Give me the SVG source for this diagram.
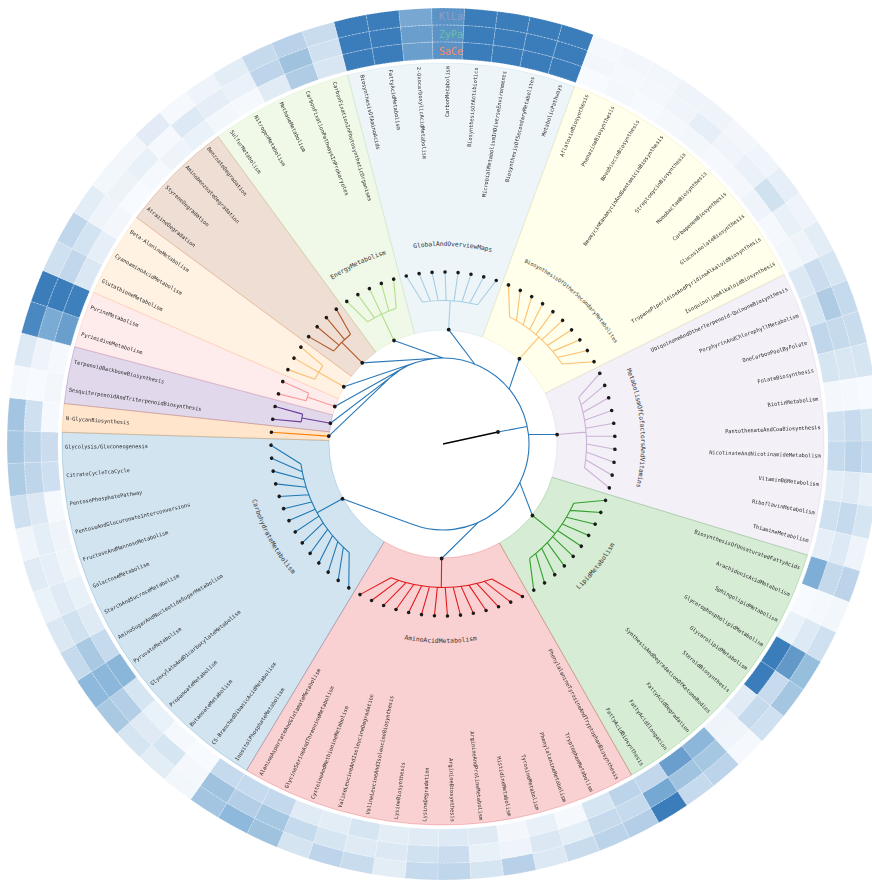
<svg xmlns="http://www.w3.org/2000/svg" xmlns:xlink="http://www.w3.org/1999/xlink" width="872" height="880" viewBox="0 0 872 880">
<style>
.wd{fill-opacity:.2;stroke-opacity:.3;stroke-width:.8}
.hm use{stroke:#fff;stroke-width:.5;stroke-opacity:.6;stroke-dasharray:2 1.5}
.br{fill:none;stroke:currentColor;stroke-width:1.1}
.dt{fill:#1a1a1a}
.lf{font-family:'DejaVu Sans Mono',monospace;font-size:5.3px;fill:#2b2b2b;dominant-baseline:central}
.r{text-anchor:end}
.cl{font-family:'DejaVu Sans Mono',monospace;font-size:6.3px;fill:#333;dominant-baseline:central;text-anchor:middle}
.hl{font-family:'DejaVu Sans Mono',monospace;font-size:10px;dominant-baseline:central}
.con{fill:none;stroke:#2a78b8;stroke-width:1.1}
.gs{opacity:.995}
</style>
<defs>
<path id="cI" d="M428.432 59.276A385 385 0 0 1 457.568 59.276L458.212 42.288A402 402 0 0 0 427.788 42.288Z"/>
<path id="cM" d="M427.788 42.288A402 402 0 0 1 458.212 42.288L458.855 25.3A419 419 0 0 0 427.145 25.3Z"/>
<path id="cO" d="M427.145 25.3A419 419 0 0 1 458.855 25.3L459.498 8.312A436 436 0 0 0 426.502 8.312Z"/>
<path id="arcCW" d="M268.93 343.5A201 201 0 0 1 617.07 343.5"/>
<path id="arcCCW" d="M273.26 542A196 196 0 0 0 612.74 542"/>
<g id="t14"><path class="br" d="M361.74 292.41L392.56 309.66M373.44 286.69L400.06 307.08M385.53 281.88L407.68 304.92M397.96 278L415.42 303.18M410.64 275.07L423.24 301.87M423.51 273.11L431.12 300.99M436.49 272.12L439.04 300.56M449.51 272.12L446.96 300.56M462.49 273.11L454.88 300.99M475.36 275.07L462.76 301.87M488.04 278L470.58 303.18M500.47 281.88L478.32 304.92M512.56 286.69L485.94 307.08M524.26 292.41L493.45 309.66M392.56 309.66A143.5 143.5 0 0 1 493.45 309.66M443 300.5V329.5"/><g class="dt"><circle cx="361.74" cy="292.41" r="1.8"/><circle cx="373.44" cy="286.69" r="1.8"/><circle cx="385.53" cy="281.88" r="1.8"/><circle cx="397.96" cy="278" r="1.8"/><circle cx="410.64" cy="275.07" r="1.8"/><circle cx="423.51" cy="273.11" r="1.8"/><circle cx="436.49" cy="272.12" r="1.8"/><circle cx="449.51" cy="272.12" r="1.8"/><circle cx="462.49" cy="273.11" r="1.8"/><circle cx="475.36" cy="275.07" r="1.8"/><circle cx="488.04" cy="278" r="1.8"/><circle cx="500.47" cy="281.88" r="1.8"/><circle cx="512.56" cy="286.69" r="1.8"/><circle cx="524.26" cy="292.41" r="1.8"/><circle cx="443" cy="329.5" r="1.9"/></g></g>
<g id="t10"><path class="br" d="M385.53 281.88L407.68 304.92M397.96 278L415.42 303.18M410.64 275.07L423.24 301.87M423.51 273.11L431.12 300.99M436.49 272.12L439.04 300.56M449.51 272.12L446.96 300.56M462.49 273.11L454.88 300.99M475.36 275.07L462.76 301.87M488.04 278L470.58 303.18M500.47 281.88L478.32 304.92M407.68 304.92A143.5 143.5 0 0 1 478.32 304.92M443 300.5V329.5"/><g class="dt"><circle cx="385.53" cy="281.88" r="1.8"/><circle cx="397.96" cy="278" r="1.8"/><circle cx="410.64" cy="275.07" r="1.8"/><circle cx="423.51" cy="273.11" r="1.8"/><circle cx="436.49" cy="272.12" r="1.8"/><circle cx="449.51" cy="272.12" r="1.8"/><circle cx="462.49" cy="273.11" r="1.8"/><circle cx="475.36" cy="275.07" r="1.8"/><circle cx="488.04" cy="278" r="1.8"/><circle cx="500.47" cy="281.88" r="1.8"/><circle cx="443" cy="329.5" r="1.9"/></g></g>
<g id="t8"><path class="br" d="M397.96 278L415.42 303.18M410.64 275.07L423.24 301.87M423.51 273.11L431.12 300.99M436.49 272.12L439.04 300.56M449.51 272.12L446.96 300.56M462.49 273.11L454.88 300.99M475.36 275.07L462.76 301.87M488.04 278L470.58 303.18M415.42 303.18A143.5 143.5 0 0 1 470.58 303.18M443 300.5V329.5"/><g class="dt"><circle cx="397.96" cy="278" r="1.8"/><circle cx="410.64" cy="275.07" r="1.8"/><circle cx="423.51" cy="273.11" r="1.8"/><circle cx="436.49" cy="272.12" r="1.8"/><circle cx="449.51" cy="272.12" r="1.8"/><circle cx="462.49" cy="273.11" r="1.8"/><circle cx="475.36" cy="275.07" r="1.8"/><circle cx="488.04" cy="278" r="1.8"/><circle cx="443" cy="329.5" r="1.9"/></g></g>
<g id="t5"><path class="br" d="M417.06 273.97L427.17 301.38M429.99 272.49L435.07 300.72M443 272V300.5M456.01 272.49L450.93 300.72M468.94 273.97L458.83 301.38M427.17 301.38A143.5 143.5 0 0 1 458.83 301.38M443 300.5V329.5"/><g class="dt"><circle cx="417.06" cy="273.97" r="1.8"/><circle cx="429.99" cy="272.49" r="1.8"/><circle cx="443" cy="272" r="1.8"/><circle cx="456.01" cy="272.49" r="1.8"/><circle cx="468.94" cy="273.97" r="1.8"/><circle cx="443" cy="329.5" r="1.9"/></g></g>
<g id="t4"><path class="br" d="M423.51 273.11L431.12 300.99M436.49 272.12L439.04 300.56M449.51 272.12L446.96 300.56M462.49 273.11L454.88 300.99M431.12 300.99A143.5 143.5 0 0 1 454.88 300.99M443 300.5V329.5"/><g class="dt"><circle cx="423.51" cy="273.11" r="1.8"/><circle cx="436.49" cy="272.12" r="1.8"/><circle cx="449.51" cy="272.12" r="1.8"/><circle cx="462.49" cy="273.11" r="1.8"/><circle cx="443" cy="329.5" r="1.9"/></g></g>
<g id="t3"><path class="br" d="M429.99 272.49L435.07 300.72M443 272V300.5M456.01 272.49L450.93 300.72M435.07 300.72A143.5 143.5 0 0 1 450.93 300.72M443 300.5V329.5"/><g class="dt"><circle cx="429.99" cy="272.49" r="1.8"/><circle cx="443" cy="272" r="1.8"/><circle cx="456.01" cy="272.49" r="1.8"/><circle cx="443" cy="329.5" r="1.9"/></g></g>
<g id="t2"><path class="br" d="M436.49 272.12L439.04 300.56M449.51 272.12L446.96 300.56M439.04 300.56A143.5 143.5 0 0 1 446.96 300.56M443 300.5V329.5"/><g class="dt"><circle cx="436.49" cy="272.12" r="1.8"/><circle cx="449.51" cy="272.12" r="1.8"/><circle cx="443" cy="329.5" r="1.9"/></g></g>
<g id="t1"><path class="br" d="M443 272V329.5"/><g class="dt"><circle cx="443" cy="272" r="1.8"/><circle cx="443" cy="329.5" r="1.9"/></g></g>
</defs>
<rect width="872" height="880" fill="#fff"/>

<g id="wedges">
<path class="wd" fill="#a6cee3" stroke="#a6cee3" d="M414.457 333.631L347.605 75.136A381 381 0 0 1 574.553 86.439L482.362 337.01A114 114 0 0 0 414.457 333.631Z"/>
<path class="wd" fill="#ffff99" stroke="#e6d87a" d="M482.362 337.01L574.553 86.439A381 381 0 0 1 784.185 274.429L545.087 393.262A114 114 0 0 0 482.362 337.01Z"/>
<path class="wd" fill="#cab2d6" stroke="#cab2d6" d="M545.087 393.262L784.185 274.429A381 381 0 0 1 807.458 555.049L552.05 477.227A114 114 0 0 0 545.087 393.262Z"/>
<path class="wd" fill="#33a02c" stroke="#33a02c" d="M552.05 477.227L807.458 555.049A381 381 0 0 1 631.661 775.017L499.45 543.045A114 114 0 0 0 552.05 477.227Z"/>
<path class="wd" fill="#e31a1c" stroke="#e31a1c" d="M499.45 543.045L631.661 775.017A381 381 0 0 1 246.53 770.436L384.214 541.674A114 114 0 0 0 499.45 543.045Z"/>
<path class="wd" fill="#1f78b4" stroke="#1f78b4" d="M384.214 541.674L246.53 770.436A381 381 0 0 1 62.181 432.264L329.054 440.488A114 114 0 0 0 384.214 541.674Z"/>
<path class="wd" fill="#ff7f00" stroke="#ff7f00" d="M329.054 440.488L62.181 432.264A381 381 0 0 1 64.159 403.499L329.646 431.882A114 114 0 0 0 329.054 440.488Z"/>
<path class="wd" fill="#6a3d9a" stroke="#6a3d9a" d="M329.646 431.882L64.159 403.499A381 381 0 0 1 74.602 346.822L332.771 414.923A114 114 0 0 0 329.646 431.882Z"/>
<path class="wd" fill="#fb9a99" stroke="#fb9a99" d="M332.771 414.923L74.602 346.822A381 381 0 0 1 93.477 292.365L338.418 398.629A114 114 0 0 0 332.771 414.923Z"/>
<path class="wd" fill="#fdbf6f" stroke="#fdbf6f" d="M338.418 398.629L93.477 292.365A381 381 0 0 1 136.588 217.565L351.318 376.248A114 114 0 0 0 338.418 398.629Z"/>
<path class="wd" fill="#b15928" stroke="#b15928" d="M351.318 376.248L136.588 217.565A381 381 0 0 1 218.049 136.495L375.692 351.99A114 114 0 0 0 351.318 376.248Z"/>
<path class="wd" fill="#b2df8a" stroke="#b2df8a" d="M375.692 351.99L218.049 136.495A381 381 0 0 1 347.605 75.136L414.457 333.631A114 114 0 0 0 375.692 351.99Z"/>
</g>

<g id="heatmap" class="hm">
<g transform="rotate(-12.331 443 444)"><use href="#cO" fill="#3a7dba"/><use href="#cM" fill="#3a7dba"/><use href="#cI" fill="#3a7dba"/></g>
<g transform="rotate(-7.994 443 444)"><use href="#cO" fill="#3a7dba"/><use href="#cM" fill="#3a7dba"/><use href="#cI" fill="#3a7dba"/></g>
<g transform="rotate(-3.657 443 444)"><use href="#cO" fill="#78a8d2"/><use href="#cM" fill="#6a9ecd"/><use href="#cI" fill="#6a9ecd"/></g>
<g transform="rotate(0.681 443 444)"><use href="#cO" fill="#5b93c6"/><use href="#cM" fill="#5b93c6"/><use href="#cI" fill="#5b93c6"/></g>
<g transform="rotate(5.018 443 444)"><use href="#cO" fill="#3a7dba"/><use href="#cM" fill="#3a7dba"/><use href="#cI" fill="#3a7dba"/></g>
<g transform="rotate(9.355 443 444)"><use href="#cO" fill="#3a7dba"/><use href="#cM" fill="#3a7dba"/><use href="#cI" fill="#3a7dba"/></g>
<g transform="rotate(13.693 443 444)"><use href="#cO" fill="#3a7dba"/><use href="#cM" fill="#3a7dba"/><use href="#cI" fill="#3a7dba"/></g>
<g transform="rotate(18.03 443 444)"><use href="#cO" fill="#3a7dba"/><use href="#cM" fill="#3a7dba"/><use href="#cI" fill="#3a7dba"/></g>
<g transform="rotate(22.367 443 444)"><use href="#cO" fill="#f5f9fd"/><use href="#cM" fill="#f3f7fc"/><use href="#cI" fill="#f7fbff"/></g>
<g transform="rotate(26.705 443 444)"><use href="#cO" fill="#f3f7fc"/><use href="#cM" fill="#f5f9fd"/><use href="#cI" fill="#f4f8fc"/></g>
<g transform="rotate(31.042 443 444)"><use href="#cO" fill="#f2f7fc"/><use href="#cM" fill="#f4f8fc"/><use href="#cI" fill="#f6f9fd"/></g>
<g transform="rotate(35.38 443 444)"><use href="#cO" fill="#eef4fa"/><use href="#cM" fill="#f0f5fb"/><use href="#cI" fill="#f4f8fc"/></g>
<g transform="rotate(39.717 443 444)"><use href="#cO" fill="#eef4fa"/><use href="#cM" fill="#e6eef7"/><use href="#cI" fill="#f2f7fc"/></g>
<g transform="rotate(44.054 443 444)"><use href="#cO" fill="#f3f7fc"/><use href="#cM" fill="#f0f5fb"/><use href="#cI" fill="#f5f9fd"/></g>
<g transform="rotate(48.392 443 444)"><use href="#cO" fill="#f0f5fb"/><use href="#cM" fill="#eaf1f8"/><use href="#cI" fill="#f4f8fc"/></g>
<g transform="rotate(52.729 443 444)"><use href="#cO" fill="#e6eef7"/><use href="#cM" fill="#d0e1f0"/><use href="#cI" fill="#eef4fa"/></g>
<g transform="rotate(57.066 443 444)"><use href="#cO" fill="#eef4fa"/><use href="#cM" fill="#e9f1f8"/><use href="#cI" fill="#f5f9fd"/></g>
<g transform="rotate(61.404 443 444)"><use href="#cO" fill="#e3edf6"/><use href="#cM" fill="#eef4fa"/><use href="#cI" fill="#f2f7fc"/></g>
<g transform="rotate(65.741 443 444)"><use href="#cO" fill="#d6e5f2"/><use href="#cM" fill="#cadcee"/><use href="#cI" fill="#dce9f4"/></g>
<g transform="rotate(70.078 443 444)"><use href="#cO" fill="#c6daed"/><use href="#cM" fill="#b0cce4"/><use href="#cI" fill="#d6e5f2"/></g>
<g transform="rotate(74.416 443 444)"><use href="#cO" fill="#c9dcee"/><use href="#cM" fill="#c6daed"/><use href="#cI" fill="#c0d6eb"/></g>
<g transform="rotate(78.753 443 444)"><use href="#cO" fill="#d6e5f2"/><use href="#cM" fill="#d9e7f3"/><use href="#cI" fill="#d6e5f2"/></g>
<g transform="rotate(83.09 443 444)"><use href="#cO" fill="#f7fbff"/><use href="#cM" fill="#f5f9fd"/><use href="#cI" fill="#f4f8fc"/></g>
<g transform="rotate(87.428 443 444)"><use href="#cO" fill="#d3e4f1"/><use href="#cM" fill="#c8dbee"/><use href="#cI" fill="#cfe0f0"/></g>
<g transform="rotate(91.765 443 444)"><use href="#cO" fill="#c6daed"/><use href="#cM" fill="#bcd4ea"/><use href="#cI" fill="#c6daed"/></g>
<g transform="rotate(96.102 443 444)"><use href="#cO" fill="#e8f0f8"/><use href="#cM" fill="#dfeaf5"/><use href="#cI" fill="#e3edf6"/></g>
<g transform="rotate(100.44 443 444)"><use href="#cO" fill="#d6e5f2"/><use href="#cM" fill="#c6daed"/><use href="#cI" fill="#cfe0f0"/></g>
<g transform="rotate(104.777 443 444)"><use href="#cO" fill="#eef4fa"/><use href="#cM" fill="#dde9f4"/><use href="#cI" fill="#e6eff8"/></g>
<g transform="rotate(109.114 443 444)"><use href="#cO" fill="#bcd3ea"/><use href="#cM" fill="#c5d9ec"/><use href="#cI" fill="#7eadd6"/></g>
<g transform="rotate(113.452 443 444)"><use href="#cO" fill="#f2f7fc"/><use href="#cM" fill="#f5f9fd"/><use href="#cI" fill="#f7fbff"/></g>
<g transform="rotate(117.789 443 444)"><use href="#cO" fill="#cfe0f0"/><use href="#cM" fill="#dde9f4"/><use href="#cI" fill="#eaf2f9"/></g>
<g transform="rotate(122.127 443 444)"><use href="#cO" fill="#96bfdd"/><use href="#cM" fill="#6399c9"/><use href="#cI" fill="#3a7dba"/></g>
<g transform="rotate(126.464 443 444)"><use href="#cO" fill="#a4c6e1"/><use href="#cM" fill="#c8dbee"/><use href="#cI" fill="#3a7dba"/></g>
<g transform="rotate(130.801 443 444)"><use href="#cO" fill="#cfe0f0"/><use href="#cM" fill="#c6daed"/><use href="#cI" fill="#e0ebf5"/></g>
<g transform="rotate(135.139 443 444)"><use href="#cO" fill="#f5f9fd"/><use href="#cM" fill="#f0f5fb"/><use href="#cI" fill="#eef4fa"/></g>
<g transform="rotate(139.476 443 444)"><use href="#cO" fill="#bcd4ea"/><use href="#cM" fill="#a5c7e2"/><use href="#cI" fill="#8cb7db"/></g>
<g transform="rotate(143.813 443 444)"><use href="#cO" fill="#c6daed"/><use href="#cM" fill="#a0c4e0"/><use href="#cI" fill="#6a9ecd"/></g>
<g transform="rotate(148.151 443 444)"><use href="#cO" fill="#3a7dba"/><use href="#cM" fill="#75a8d3"/><use href="#cI" fill="#c2d7eb"/></g>
<g transform="rotate(152.488 443 444)"><use href="#cO" fill="#b3cee6"/><use href="#cM" fill="#c6daed"/><use href="#cI" fill="#bcd4ea"/></g>
<g transform="rotate(156.825 443 444)"><use href="#cO" fill="#bcd4ea"/><use href="#cM" fill="#c6daed"/><use href="#cI" fill="#d6e5f2"/></g>
<g transform="rotate(161.163 443 444)"><use href="#cO" fill="#c9dcee"/><use href="#cM" fill="#e4eef7"/><use href="#cI" fill="#f5f9fd"/></g>
<g transform="rotate(165.5 443 444)"><use href="#cO" fill="#dce9f4"/><use href="#cM" fill="#dbe8f4"/><use href="#cI" fill="#e8f0f8"/></g>
<g transform="rotate(169.837 443 444)"><use href="#cO" fill="#b8d1e8"/><use href="#cM" fill="#eef4fa"/><use href="#cI" fill="#f3f7fc"/></g>
<g transform="rotate(174.175 443 444)"><use href="#cO" fill="#d6e5f2"/><use href="#cM" fill="#e8f0f8"/><use href="#cI" fill="#dfeaf5"/></g>
<g transform="rotate(178.512 443 444)"><use href="#cO" fill="#c0d6eb"/><use href="#cM" fill="#cadcee"/><use href="#cI" fill="#dde9f4"/></g>
<g transform="rotate(182.849 443 444)"><use href="#cO" fill="#c6daed"/><use href="#cM" fill="#d0e1f0"/><use href="#cI" fill="#e0ebf5"/></g>
<g transform="rotate(187.187 443 444)"><use href="#cO" fill="#e3edf6"/><use href="#cM" fill="#dce8f4"/><use href="#cI" fill="#e3edf6"/></g>
<g transform="rotate(191.524 443 444)"><use href="#cO" fill="#c9dcee"/><use href="#cM" fill="#dfeaf5"/><use href="#cI" fill="#d6e5f2"/></g>
<g transform="rotate(195.861 443 444)"><use href="#cO" fill="#bdd4ea"/><use href="#cM" fill="#d6e5f2"/><use href="#cI" fill="#e3edf6"/></g>
<g transform="rotate(200.199 443 444)"><use href="#cO" fill="#d4e4f1"/><use href="#cM" fill="#c6daed"/><use href="#cI" fill="#e0ebf5"/></g>
<g transform="rotate(204.536 443 444)"><use href="#cO" fill="#9fc2df"/><use href="#cM" fill="#a6c7e2"/><use href="#cI" fill="#c3d8ec"/></g>
<g transform="rotate(208.874 443 444)"><use href="#cO" fill="#8fb9dc"/><use href="#cM" fill="#b3cee6"/><use href="#cI" fill="#c6daed"/></g>
<g transform="rotate(213.211 443 444)"><use href="#cO" fill="#a3c5e1"/><use href="#cM" fill="#9fc2df"/><use href="#cI" fill="#c6daed"/></g>
<g transform="rotate(217.548 443 444)"><use href="#cO" fill="#f2f7fc"/><use href="#cM" fill="#f4f8fc"/><use href="#cI" fill="#f7fbff"/></g>
<g transform="rotate(221.886 443 444)"><use href="#cO" fill="#e3edf6"/><use href="#cM" fill="#d6e5f2"/><use href="#cI" fill="#f5f9fd"/></g>
<g transform="rotate(226.223 443 444)"><use href="#cO" fill="#d6e5f2"/><use href="#cM" fill="#dfeaf5"/><use href="#cI" fill="#eaf2f9"/></g>
<g transform="rotate(230.56 443 444)"><use href="#cO" fill="#a9c9e3"/><use href="#cM" fill="#b3cee6"/><use href="#cI" fill="#d6e5f2"/></g>
<g transform="rotate(234.898 443 444)"><use href="#cO" fill="#8fb9dc"/><use href="#cM" fill="#8cb7db"/><use href="#cI" fill="#8ab6da"/></g>
<g transform="rotate(239.235 443 444)"><use href="#cO" fill="#c6daed"/><use href="#cM" fill="#a9c9e3"/><use href="#cI" fill="#c6daed"/></g>
<g transform="rotate(243.572 443 444)"><use href="#cO" fill="#dbe8f4"/><use href="#cM" fill="#d0e1f0"/><use href="#cI" fill="#dfeaf5"/></g>
<g transform="rotate(247.91 443 444)"><use href="#cO" fill="#eaf2f9"/><use href="#cM" fill="#dfeaf5"/><use href="#cI" fill="#e8f0f8"/></g>
<g transform="rotate(252.247 443 444)"><use href="#cO" fill="#e0ebf5"/><use href="#cM" fill="#e6eff8"/><use href="#cI" fill="#f0f5fa"/></g>
<g transform="rotate(256.584 443 444)"><use href="#cO" fill="#f0f5fb"/><use href="#cM" fill="#e4eef7"/><use href="#cI" fill="#eef4fa"/></g>
<g transform="rotate(260.922 443 444)"><use href="#cO" fill="#cfe0f0"/><use href="#cM" fill="#dce8f4"/><use href="#cI" fill="#f5f9fd"/></g>
<g transform="rotate(265.259 443 444)"><use href="#cO" fill="#afcce5"/><use href="#cM" fill="#bed5ea"/><use href="#cI" fill="#cddff0"/></g>
<g transform="rotate(269.596 443 444)"><use href="#cO" fill="#a6c7e2"/><use href="#cM" fill="#bad3e9"/><use href="#cI" fill="#cadcee"/></g>
<g transform="rotate(273.934 443 444)"><use href="#cO" fill="#a3c5e1"/><use href="#cM" fill="#cfe0f0"/><use href="#cI" fill="#f5f9fd"/></g>
<g transform="rotate(278.271 443 444)"><use href="#cO" fill="#f5f9fd"/><use href="#cM" fill="#f7fbff"/><use href="#cI" fill="#f3f7fc"/></g>
<g transform="rotate(282.608 443 444)"><use href="#cO" fill="#dde9f4"/><use href="#cM" fill="#eef4fa"/><use href="#cI" fill="#f5f9fd"/></g>
<g transform="rotate(286.946 443 444)"><use href="#cO" fill="#4a88c1"/><use href="#cM" fill="#7aabd4"/><use href="#cI" fill="#6a9ecd"/></g>
<g transform="rotate(291.283 443 444)"><use href="#cO" fill="#3a7dba"/><use href="#cM" fill="#3a7dba"/><use href="#cI" fill="#3d80bc"/></g>
<g transform="rotate(295.62 443 444)"><use href="#cO" fill="#cfe0f0"/><use href="#cM" fill="#c2d7eb"/><use href="#cI" fill="#dbe8f4"/></g>
<g transform="rotate(299.958 443 444)"><use href="#cO" fill="#c0d6eb"/><use href="#cM" fill="#d2e3f1"/><use href="#cI" fill="#e6eff8"/></g>
<g transform="rotate(304.295 443 444)"><use href="#cO" fill="#e3edf6"/><use href="#cM" fill="#eef4fa"/><use href="#cI" fill="#f3f7fc"/></g>
<g transform="rotate(308.633 443 444)"><use href="#cO" fill="#f2f7fc"/><use href="#cM" fill="#edf3f9"/><use href="#cI" fill="#f7fbff"/></g>
<g transform="rotate(312.97 443 444)"><use href="#cO" fill="#f3f7fb"/><use href="#cM" fill="#e9f1f8"/><use href="#cI" fill="#f5f9fd"/></g>
<g transform="rotate(317.307 443 444)"><use href="#cO" fill="#e3ecf6"/><use href="#cM" fill="#f5f9fd"/><use href="#cI" fill="#eef4fa"/></g>
<g transform="rotate(321.645 443 444)"><use href="#cO" fill="#f5f9fd"/><use href="#cM" fill="#dde9f4"/><use href="#cI" fill="#eaf2f9"/></g>
<g transform="rotate(325.982 443 444)"><use href="#cO" fill="#eef4fa"/><use href="#cM" fill="#e5eef7"/><use href="#cI" fill="#f2f7fc"/></g>
<g transform="rotate(330.319 443 444)"><use href="#cO" fill="#e3edf6"/><use href="#cM" fill="#eaf1f8"/><use href="#cI" fill="#f5f9fd"/></g>
<g transform="rotate(334.657 443 444)"><use href="#cO" fill="#c6daed"/><use href="#cM" fill="#bdd4ea"/><use href="#cI" fill="#e0ebf5"/></g>
<g transform="rotate(338.994 443 444)"><use href="#cO" fill="#b9d2e9"/><use href="#cM" fill="#9fc2df"/><use href="#cI" fill="#b0cce4"/></g>
<g transform="rotate(343.331 443 444)"><use href="#cO" fill="#c9dcee"/><use href="#cM" fill="#cfe0f0"/><use href="#cI" fill="#d8e6f3"/></g>
<g class="gs">
<text class="hl" x="439" y="16.8" fill="#8da0cb">KlLa</text>
<text class="hl" x="439" y="34" fill="#66c2a5">ZyPa</text>
<text class="hl" x="439" y="51.3" fill="#fc8d62">SaCe</text>
</g>
</g>

<g id="connectors">
<path class="con" d="M396.16 371.87A86 86 0 1 1 413.59 524.81M396.16 371.87L328.77 436.15M402.63 368.07L330.4 423.25M409.4 364.84L334.81 406.51M416.42 362.21L343.8 386.82M440 358.05L362.23 362.84M443 358L393.99 340.52M474.66 364.04L448.69 329.64M509.16 389.06L519.45 358.76M498.01 432.01L527.21 426.56M528.45 434.26L557.11 434.54M519.83 482.64L532.42 515.51M478.25 522.44L441.64 558.49M413.59 524.81L342.46 498.8"/>
<path d="M443 444L498.01 432.01" stroke="#000" stroke-width="1.3" fill="none"/>
<circle class="dt" cx="498.01" cy="432.01" r="1.9"/>
</g>

<g id="GlobalAndOverviewMaps">
<use href="#t8" transform="rotate(2.849 443 444)" color="#a6cee3"/>
<g class="gs"><text class="cl" transform="rotate(2.849 443 444)"><textPath href="#arcCW" startOffset="50%">GlobalAndOverviewMaps</textPath></text></g>
</g>
<g id="BiosynthesisOfOtherSecondaryMetabolites">
<use href="#t10" transform="rotate(41.886 443 444)" color="#fdbf6f"/>
<g class="gs"><text class="cl" style="font-size:5.3px" transform="rotate(41.886 443 444)"><textPath href="#arcCW" startOffset="50%">BiosynthesisOfOtherSecondaryMetabolites</textPath></text></g>
</g>
<g id="MetabolismOfCofactorsAndVitamins">
<use href="#t10" transform="rotate(85.259 443 444)" color="#cab2d6"/>
<g class="gs"><text class="cl" transform="rotate(85.259 443 444)"><textPath href="#arcCW" startOffset="50%">MetabolismOfCofactorsAndVitamins</textPath></text></g>
</g>
<g id="LipidMetabolism">
<use href="#t10" transform="rotate(128.633 443 444)" color="#33a02c"/>
<g class="gs"><text class="cl" transform="rotate(-51.367 443 444)"><textPath href="#arcCCW" startOffset="50%">LipidMetabolism</textPath></text></g>
</g>
<g id="AminoAcidMetabolism">
<use href="#t14" transform="rotate(180.681 443 444)" color="#e31a1c"/>
<g class="gs"><text class="cl" transform="rotate(0.681 443 444)"><textPath href="#arcCCW" startOffset="50%">AminoAcidMetabolism</textPath></text></g>
</g>
<g id="CarbohydrateMetabolism">
<use href="#t14" transform="rotate(241.404 443 444)" color="#1f78b4"/>
<g class="gs"><text class="cl" transform="rotate(61.404 443 444)"><textPath href="#arcCCW" startOffset="50%">CarbohydrateMetabolism</textPath></text></g>
</g>
<g id="GlycanBiosynthesisAndMetabolism">
<use href="#t1" transform="rotate(273.934 443 444)" color="#ff7f00"/>
</g>
<g id="MetabolismOfTerpenoidsAndPolyketides">
<use href="#t2" transform="rotate(280.44 443 444)" color="#6a3d9a"/>
</g>
<g id="NucleotideMetabolism">
<use href="#t2" transform="rotate(289.115 443 444)" color="#fb9a99"/>
</g>
<g id="MetabolismOfOtherAminoAcids">
<use href="#t3" transform="rotate(299.958 443 444)" color="#fdbf6f"/>
</g>
<g id="XenobioticsBiodegradationAndMetabolism">
<use href="#t4" transform="rotate(315.139 443 444)" color="#b15928"/>
</g>
<g id="EnergyMetabolism">
<use href="#t5" transform="rotate(334.657 443 444)" color="#b2df8a"/>
<g class="gs"><text class="cl" transform="rotate(334.657 443 444)"><textPath href="#arcCW" startOffset="50%">EnergyMetabolism</textPath></text></g>
</g>

<g id="leaf-labels" class="gs">
<text class="lf" transform="rotate(77.669 443 444)" x="65" y="444">BiosynthesisOfAminoAcids</text>
<text class="lf" transform="rotate(82.006 443 444)" x="65" y="444">FattyAcidMetabolism</text>
<text class="lf" transform="rotate(86.343 443 444)" x="65" y="444">2-OxocarboxylicAcidMetabolism</text>
<text class="lf r" transform="rotate(-89.319 443 444)" x="821" y="444">CarbonMetabolism</text>
<text class="lf r" transform="rotate(-84.982 443 444)" x="821" y="444">BiosynthesisOfAntibiotics</text>
<text class="lf r" transform="rotate(-80.645 443 444)" x="821" y="444">MicrobialMetabolismInDiverseEnvironments</text>
<text class="lf r" transform="rotate(-76.307 443 444)" x="821" y="444">BiosynthesisOfSecondaryMetabolites</text>
<text class="lf r" transform="rotate(-71.97 443 444)" x="821" y="444">MetabolicPathways</text>
<text class="lf r" transform="rotate(-67.633 443 444)" x="821" y="444">AflatoxinBiosynthesis</text>
<text class="lf r" transform="rotate(-63.295 443 444)" x="821" y="444">PhenazineBiosynthesis</text>
<text class="lf r" transform="rotate(-58.958 443 444)" x="821" y="444">NovobiocinBiosynthesis</text>
<text class="lf r" transform="rotate(-54.62 443 444)" x="821" y="444">NeomycinKanamycinAndGentamicinBiosynthesis</text>
<text class="lf r" transform="rotate(-50.283 443 444)" x="821" y="444">StreptomycinBiosynthesis</text>
<text class="lf r" transform="rotate(-45.946 443 444)" x="821" y="444">MonobactamBiosynthesis</text>
<text class="lf r" transform="rotate(-41.608 443 444)" x="821" y="444">CarbapenemBiosynthesis</text>
<text class="lf r" transform="rotate(-37.271 443 444)" x="821" y="444">GlucosinolateBiosynthesis</text>
<text class="lf r" transform="rotate(-32.934 443 444)" x="821" y="444">TropanePiperidineAndPyridineAlkaloidBiosynthesis</text>
<text class="lf r" transform="rotate(-28.596 443 444)" x="821" y="444">IsoquinolineAlkaloidBiosynthesis</text>
<text class="lf r" transform="rotate(-24.259 443 444)" x="821" y="444">UbiquinoneAndOtherTerpenoid-QuinoneBiosynthesis</text>
<text class="lf r" transform="rotate(-19.922 443 444)" x="821" y="444">PorphyrinAndChlorophyllMetabolism</text>
<text class="lf r" transform="rotate(-15.584 443 444)" x="821" y="444">OneCarbonPoolByFolate</text>
<text class="lf r" transform="rotate(-11.247 443 444)" x="821" y="444">FolateBiosynthesis</text>
<text class="lf r" transform="rotate(-6.91 443 444)" x="821" y="444">BiotinMetabolism</text>
<text class="lf r" transform="rotate(-2.572 443 444)" x="821" y="444">PantothenateAndCoaBiosynthesis</text>
<text class="lf r" transform="rotate(1.765 443 444)" x="821" y="444">NicotinateAndNicotinamideMetabolism</text>
<text class="lf r" transform="rotate(6.102 443 444)" x="821" y="444">VitaminB6Metabolism</text>
<text class="lf r" transform="rotate(10.44 443 444)" x="821" y="444">RiboflavinMetabolism</text>
<text class="lf r" transform="rotate(14.777 443 444)" x="821" y="444">ThiamineMetabolism</text>
<text class="lf r" transform="rotate(19.114 443 444)" x="821" y="444">BiosynthesisOfUnsaturatedFattyAcids</text>
<text class="lf r" transform="rotate(23.452 443 444)" x="821" y="444">ArachidonicAcidMetabolism</text>
<text class="lf r" transform="rotate(27.789 443 444)" x="821" y="444">SphingolipidMetabolism</text>
<text class="lf r" transform="rotate(32.127 443 444)" x="821" y="444">GlycerophospholipidMetabolism</text>
<text class="lf r" transform="rotate(36.464 443 444)" x="821" y="444">GlycerolipidMetabolism</text>
<text class="lf r" transform="rotate(40.801 443 444)" x="821" y="444">SteroidBiosynthesis</text>
<text class="lf r" transform="rotate(45.139 443 444)" x="821" y="444">SynthesisAndDegradationOfKetoneBodies</text>
<text class="lf r" transform="rotate(49.476 443 444)" x="821" y="444">FattyAcidDegradation</text>
<text class="lf r" transform="rotate(53.813 443 444)" x="821" y="444">FattyAcidElongation</text>
<text class="lf r" transform="rotate(58.151 443 444)" x="821" y="444">FattyAcidBiosynthesis</text>
<text class="lf r" transform="rotate(62.488 443 444)" x="821" y="444">PhenylalanineTyrosineAndTryptophanBiosynthesis</text>
<text class="lf r" transform="rotate(66.825 443 444)" x="821" y="444">TryptophanMetabolism</text>
<text class="lf r" transform="rotate(71.163 443 444)" x="821" y="444">PhenylalanineMetabolism</text>
<text class="lf r" transform="rotate(75.5 443 444)" x="821" y="444">TyrosineMetabolism</text>
<text class="lf r" transform="rotate(79.837 443 444)" x="821" y="444">HistidineMetabolism</text>
<text class="lf r" transform="rotate(84.175 443 444)" x="821" y="444">ArginineAndProlineMetabolism</text>
<text class="lf r" transform="rotate(88.512 443 444)" x="821" y="444">ArginineBiosynthesis</text>
<text class="lf" transform="rotate(-87.151 443 444)" x="65" y="444">LysineDegradation</text>
<text class="lf" transform="rotate(-82.813 443 444)" x="65" y="444">LysineBiosynthesis</text>
<text class="lf" transform="rotate(-78.476 443 444)" x="65" y="444">ValineLeucineAndIsoleucineBiosynthesis</text>
<text class="lf" transform="rotate(-74.139 443 444)" x="65" y="444">ValineLeucineAndIsoleucineDegradation</text>
<text class="lf" transform="rotate(-69.801 443 444)" x="65" y="444">CysteineAndMethionineMetabolism</text>
<text class="lf" transform="rotate(-65.464 443 444)" x="65" y="444">GlycineSerineAndThreonineMetabolism</text>
<text class="lf" transform="rotate(-61.126 443 444)" x="65" y="444">AlanineAspartateAndGlutamateMetabolism</text>
<text class="lf" transform="rotate(-56.789 443 444)" x="65" y="444">InositolPhosphateMetabolism</text>
<text class="lf" transform="rotate(-52.452 443 444)" x="65" y="444">C5-BranchedDibasicAcidMetabolism</text>
<text class="lf" transform="rotate(-48.114 443 444)" x="65" y="444">ButanoateMetabolism</text>
<text class="lf" transform="rotate(-43.777 443 444)" x="65" y="444">PropanoateMetabolism</text>
<text class="lf" transform="rotate(-39.44 443 444)" x="65" y="444">GlyoxylateAndDicarboxylateMetabolism</text>
<text class="lf" transform="rotate(-35.102 443 444)" x="65" y="444">PyruvateMetabolism</text>
<text class="lf" transform="rotate(-30.765 443 444)" x="65" y="444">AminoSugarAndNucleotideSugarMetabolism</text>
<text class="lf" transform="rotate(-26.428 443 444)" x="65" y="444">StarchAndSucroseMetabolism</text>
<text class="lf" transform="rotate(-22.09 443 444)" x="65" y="444">GalactoseMetabolism</text>
<text class="lf" transform="rotate(-17.753 443 444)" x="65" y="444">FructoseAndMannoseMetabolism</text>
<text class="lf" transform="rotate(-13.416 443 444)" x="65" y="444">PentoseAndGlucuronateInterconversions</text>
<text class="lf" transform="rotate(-9.078 443 444)" x="65" y="444">PentosePhosphatePathway</text>
<text class="lf" transform="rotate(-4.741 443 444)" x="65" y="444">CitrateCycleTcaCycle</text>
<text class="lf" transform="rotate(-0.404 443 444)" x="65" y="444">Glycolysis/Gluconeogenesis</text>
<text class="lf" transform="rotate(3.934 443 444)" x="65" y="444">N-GlycanBiosynthesis</text>
<text class="lf" transform="rotate(8.271 443 444)" x="65" y="444">SesquiterpenoidAndTriterpenoidBiosynthesis</text>
<text class="lf" transform="rotate(12.608 443 444)" x="65" y="444">TerpenoidBackboneBiosynthesis</text>
<text class="lf" transform="rotate(16.946 443 444)" x="65" y="444">PyrimidineMetabolism</text>
<text class="lf" transform="rotate(21.283 443 444)" x="65" y="444">PurineMetabolism</text>
<text class="lf" transform="rotate(25.62 443 444)" x="65" y="444">GlutathioneMetabolism</text>
<text class="lf" transform="rotate(29.958 443 444)" x="65" y="444">CyanoaminoAcidMetabolism</text>
<text class="lf" transform="rotate(34.295 443 444)" x="65" y="444">Beta-AlanineMetabolism</text>
<text class="lf" transform="rotate(38.633 443 444)" x="65" y="444">AtrazineDegradation</text>
<text class="lf" transform="rotate(42.97 443 444)" x="65" y="444">StyreneDegradation</text>
<text class="lf" transform="rotate(47.307 443 444)" x="65" y="444">AminobenzoateDegradation</text>
<text class="lf" transform="rotate(51.645 443 444)" x="65" y="444">BenzoateDegradation</text>
<text class="lf" transform="rotate(55.982 443 444)" x="65" y="444">SulfurMetabolism</text>
<text class="lf" transform="rotate(60.319 443 444)" x="65" y="444">NitrogenMetabolism</text>
<text class="lf" transform="rotate(64.657 443 444)" x="65" y="444">MethaneMetabolism</text>
<text class="lf" transform="rotate(68.994 443 444)" x="65" y="444">CarbonFixationPathwaysInProkaryotes</text>
<text class="lf" transform="rotate(73.331 443 444)" x="65" y="444">CarbonFixationInPhotosyntheticOrganisms</text>
</g>
</svg>
